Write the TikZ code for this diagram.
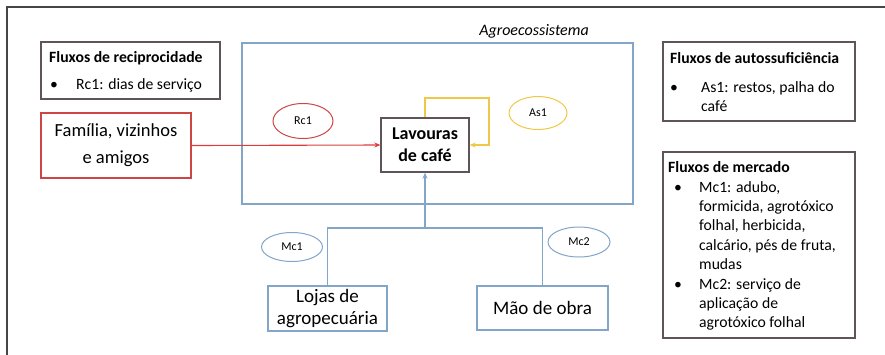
\documentclass[tikz,border=0pt]{standalone}
\usepackage{fontspec}
\setmainfont{Carlito}
\usetikzlibrary{arrows.meta,shapes.geometric}
\definecolor{frm}{RGB}{70,70,70}
\definecolor{boxg}{RGB}{95,85,88}
\definecolor{redc}{RGB}{205,70,70}
\definecolor{redl}{RGB}{220,60,60}
\definecolor{bluec}{RGB}{130,165,200}
\definecolor{yelc}{RGB}{238,200,70}
\tikzset{
  legbox/.style={draw=boxg,line width=1.3pt,inner sep=0pt},
  legtxt/.style={anchor=base west,inner sep=0pt,align=left,font=\fontsize{15.7}{19.4}\selectfont},
  bluebox/.style={draw=bluec,line width=1.1pt,align=center,inner sep=0pt},
  oval/.style={ellipse,line width=1pt,inner sep=0pt,font=\fontsize{12}{14}\selectfont},
  conn/.style={line width=1.1pt},
  tip/.style={-{Stealth[length=6pt,width=5pt]}}
}
\newcommand{\legrows}[2]{\begin{tabular}[t]{@{}p{#1}@{}l@{}}#2\end{tabular}}
\begin{document}
\begin{tikzpicture}[x=1pt,y=-1pt]
\useasboundingbox (0,0) rectangle (885,354);
\draw[frm,line width=1.5pt] (7,356) -- (7,7) -- (887,7);
% agroecosystem
\node[draw=bluec,line width=1.1pt,minimum width=391pt,minimum height=161pt,inner sep=0pt] (agro) at (437.5,123.5) {};
\node[font=\itshape\fontsize{16}{18}\selectfont] (agrolab) at (534,31) {Agroecossistema};
% legend: reciprocidade
\node[legbox,minimum width=179pt,minimum height=57pt] (recip) at (130.5,70.5) {};
\node[legtxt] (reciph) at (49,62) {\textbf{Fluxos de reciprocidade}};
\node[legtxt] (recipi) at (50,89) {\legrows{26pt}{\textbullet & Rc1: dias de serviço}};
% legend: autossuficiencia
\node[legbox,minimum width=192pt,minimum height=79pt] (auto) at (759,81.5) {};
\node[legtxt] (autoh) at (670,63) {\textbf{Fluxos de autossuficiência}};
\node[legtxt] (autoi) at (670,92) {\legrows{31pt}{\textbullet & As1: restos, palha do\\ & café}};
% legend: mercado
\node[legbox,minimum width=192pt,minimum height=186pt] (merc) at (759,245) {};
\node[legtxt] (merch) at (668,172) {\textbf{Fluxos de mercado}};
\node[legtxt] (merci) at (674,192) {\legrows{25pt}{\textbullet & Mc1: adubo,\\ & formicida, agrotóxico\\ & folhal, herbicida,\\ & calcário, pés de fruta,\\ & mudas\\ \textbullet & Mc2: serviço de\\ & aplicação de\\ & agrotóxico folhal}};
% main nodes
\node[draw=redc,line width=1.1pt,minimum width=150pt,minimum height=65pt,inner sep=0pt,align=center,font=\fontsize{18.5}{27}\selectfont] (fam) at (116,145.5) {Família, vizinhos\\e amigos};
\node[draw=boxg,line width=1.3pt,minimum width=88pt,minimum height=54pt,inner sep=0pt,align=center,font=\bfseries\fontsize{18}{22}\selectfont] (lav) at (425,145) {Lavouras\\de café};
\node[bluebox,minimum width=119pt,minimum height=45pt,font=\fontsize{19}{22}\selectfont] (lojas) at (327.5,308.5) {Lojas de\\agropecuária};
\node[bluebox,minimum width=131pt,minimum height=44pt,font=\fontsize{19}{22}\selectfont] (mao) at (542.5,308) {Mão de obra};
% ovals
\node[oval,draw=redc,minimum width=60pt,minimum height=35pt] (rc1) at (303,121) {Rc1};
\node[oval,draw=yelc,minimum width=58pt,minimum height=33pt] (as1) at (538,113) {As1};
\node[oval,draw=bluec,minimum width=61pt,minimum height=29pt] (mc1) at (292,247) {Mc1};
\node[oval,draw=bluec,minimum width=62pt,minimum height=30pt] (mc2) at (579,242) {Mc2};
% connectors
\draw[conn,redl,tip] (fam.east) -- (lav.west);
\coordinate (yl) at (489,98);
\draw[conn,yelc,tip] (lav.north) |- (yl) |- (lav.east);
\coordinate (jn) at (425,228);
\draw[conn,bluec,tip] (jn) -- (lav.south);
\draw[conn,bluec] (lojas.north) |- (jn);
\draw[conn,bluec] (mao.north) |- (jn);
\end{tikzpicture}
\end{document}
